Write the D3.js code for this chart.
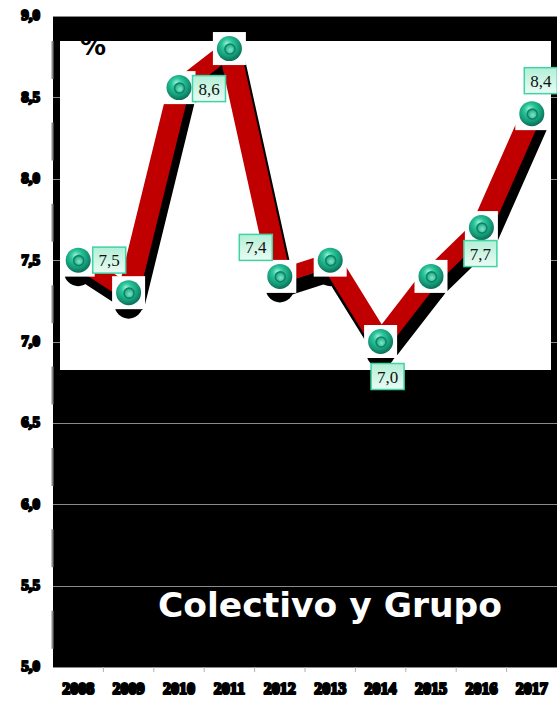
<!DOCTYPE html>
<html>
<head>
<meta charset="utf-8">
<script src="https://cdn.jsdelivr.net/npm/d3@7"></script>
<style>
  html, body { margin: 0; padding: 0; background: #fff; }
  svg { display: block; }
</style>
</head>
<body>
<script>
// ---- data ----
const years = ["2008","2009","2010","2011","2012","2013","2014","2015","2016","2017"];
const values = [7.5, 7.3, 8.56, 8.8, 7.4, 7.5, 7.0, 7.4, 7.7, 8.4];
const labeledYears = ["2008","2010","2012","2014","2016","2017"];
const yTicks = [5.0, 5.5, 6.0, 6.5, 7.0, 7.5, 8.0, 8.5, 9.0];
const title = "Colectivo y Grupo";
const unitLabel = "%";

// ---- layout (not data) ----
const W = 557, H = 705;
const plot = { left: 53, right: 557, top: 16, bottom: 667 };
const inner = { x0: 60, x1: 551, y0: 41, y1: 370 };
const labelOffsets = {
  "2008": [31, 0], "2010": [30, 1], "2012": [-24, -29],
  "2014": [7, 35], "2016": [-1, 26], "2017": [9, -33]
};
const comma = d3.formatLocale({ decimal: ",", thousands: ".", grouping: [3], currency: ["", "€"] });
const fmt = comma.format(".1f");

const svg = d3.select("body").append("svg").attr("width", W).attr("height", H);
const defs = svg.append("defs");

const x = d3.scaleBand().domain(years).range([plot.left, plot.right]).padding(0);
const y = d3.scaleLinear().domain([5, 9]).range([plot.bottom, plot.top]);
const cx = d => x(d) + x.bandwidth() / 2;

// sphere gradient
const rg = defs.append("radialGradient").attr("id", "sph").attr("cx", "45%").attr("cy", "40%").attr("r", "60%").attr("fx", "40%").attr("fy", "30%");
rg.append("stop").attr("offset", "0%").attr("stop-color", "#9ff2d6");
rg.append("stop").attr("offset", "35%").attr("stop-color", "#2cc79c");
rg.append("stop").attr("offset", "75%").attr("stop-color", "#149a78");
rg.append("stop").attr("offset", "100%").attr("stop-color", "#0a6e55");
const rg2 = defs.append("radialGradient").attr("id", "dimple").attr("cx", "55%").attr("cy", "60%").attr("r", "60%");
rg2.append("stop").attr("offset", "0%").attr("stop-color", "#7de8c6");
rg2.append("stop").attr("offset", "100%").attr("stop-color", "#1aa582");
const lg = defs.append("linearGradient").attr("id", "lbl").attr("x1", 0).attr("y1", 0).attr("x2", 0).attr("y2", 1);
lg.append("stop").attr("offset", "0%").attr("stop-color", "#b3efd6");
lg.append("stop").attr("offset", "100%").attr("stop-color", "#e9fcf4");
defs.append("clipPath").attr("id", "innerClip").append("rect")
  .attr("x", inner.x0).attr("y", inner.y0).attr("width", inner.x1 - inner.x0).attr("height", inner.y1 - inner.y0);

// plot background
svg.append("rect").attr("x", plot.left).attr("y", plot.top)
  .attr("width", plot.right - plot.left).attr("height", plot.bottom - plot.top).attr("fill", "#000");

// grid lines
svg.append("g").selectAll("line").data(yTicks).join("line")
  .attr("x1", plot.left).attr("x2", plot.right)
  .attr("y1", d => Math.round(y(d)) + 0.5).attr("y2", d => Math.round(y(d)) + 0.5)
  .attr("stroke", "#8a8a8a").attr("stroke-width", 1.2);

// left axis (broken grey)
const step = y(5) - y(5.5);
svg.append("line").attr("x1", plot.left - 0.5).attr("x2", plot.left - 0.5)
  .attr("y1", plot.top).attr("y2", plot.bottom)
  .attr("stroke", "#8a8a8a").attr("stroke-width", 2)
  .attr("stroke-dasharray", `0 25 38 ${step - 63}`);

// bottom ticks
svg.append("g").selectAll("line").data(years.slice(1)).join("line")
  .attr("x1", d => x(d)).attr("x2", d => x(d))
  .attr("y1", plot.bottom).attr("y2", plot.bottom + 5)
  .attr("stroke", "#b0b0b0").attr("stroke-width", 1);

// white inner panel
svg.append("rect").attr("x", inner.x0).attr("y", inner.y0)
  .attr("width", inner.x1 - inner.x0).attr("height", inner.y1 - inner.y0).attr("fill", "#fff");
svg.append("text").attr("clip-path", "url(#innerClip)")
  .attr("x", 80).attr("y", 55).attr("font-family", "'DejaVu Sans', sans-serif")
  .attr("font-weight", 700).attr("font-size", 26).attr("fill", "#000").text(unitLabel);

// y tick labels
svg.append("g").selectAll("text").data(yTicks).join("text")
  .attr("x", 40).attr("y", d => y(d) + 1)
  .attr("text-anchor", "end").attr("dominant-baseline", "middle")
  .attr("font-family", "'Liberation Serif', serif").attr("font-weight", 700).attr("font-size", 15)
  .attr("fill", "#000").attr("stroke", "#000").attr("stroke-width", 2).attr("stroke-linejoin", "round")
  .text(d => fmt(d));

// x labels
svg.append("g").selectAll("text").data(years).join("text")
  .attr("x", d => cx(d)).attr("y", 690)
  .attr("text-anchor", "middle").attr("dominant-baseline", "middle")
  .attr("font-family", "'Liberation Serif', serif").attr("font-weight", 700).attr("font-size", 16)
  .attr("fill", "#000").attr("stroke", "#000").attr("stroke-width", 2.2).attr("stroke-linejoin", "round")
  .text(d => d);

// title
svg.append("text").attr("x", 330).attr("y", 617).attr("text-anchor", "middle")
  .attr("font-family", "'DejaVu Sans', sans-serif").attr("font-weight", 700).attr("font-size", 34.5)
  .attr("fill", "#fff").text(title);

// line with elliptical pen (wider horizontally than vertically)
const k = 0.6;
const pts = years.map((yr, i) => ({ yr, v: values[i] }));
const lineGen = d3.line().x(d => cx(d.yr)).y(d => y(d.v) / k);
const sh = { dx: 5, dy: 13 };

svg.append("g").attr("transform", `translate(${sh.dx},${sh.dy}) scale(1,${k})`)
  .append("path").attr("d", lineGen(pts)).attr("fill", "none")
  .attr("stroke", "#000").attr("stroke-width", 22).attr("stroke-linejoin", "round");

// marker shadows
svg.append("g").selectAll("circle").data(pts).join("circle")
  .attr("cx", d => cx(d.yr)).attr("cy", d => y(d.v) + 12).attr("r", 14).attr("fill", "#000");

svg.append("g").attr("transform", `scale(1,${k})`)
  .append("path").attr("d", lineGen(pts)).attr("fill", "none")
  .attr("stroke", "#c00000").attr("stroke-width", 22).attr("stroke-linejoin", "round");

// markers
const mk = svg.append("g").selectAll("g").data(pts).join("g")
  .attr("transform", d => `translate(${cx(d.yr)},${y(d.v)})`);
mk.append("rect").attr("x", -16.5).attr("y", -16.5).attr("width", 33).attr("height", 33).attr("fill", "#fff");
mk.append("circle").attr("r", 12.5).attr("fill", "url(#sph)");
mk.append("circle").attr("cx", 0.5).attr("cy", 0.5).attr("r", 5).attr("fill", "url(#dimple)")
  .attr("stroke", "#0e8466").attr("stroke-width", 1.6);

// value labels
const lab = svg.append("g").selectAll("g").data(pts.filter(d => labeledYears.includes(d.yr))).join("g")
  .attr("transform", d => `translate(${cx(d.yr) + labelOffsets[d.yr][0]},${y(d.v) + labelOffsets[d.yr][1]})`);
lab.append("rect").attr("x", -16.5).attr("y", -13).attr("width", 33).attr("height", 26)
  .attr("fill", "url(#lbl)").attr("stroke", "#3fd3a6").attr("stroke-width", 1.5);
lab.append("text").attr("text-anchor", "middle").attr("y", 6)
  .attr("font-family", "'Liberation Serif', serif").attr("font-size", 17).attr("fill", "#111")
  .text(d => fmt(d.v));
</script>
</body>
</html>
